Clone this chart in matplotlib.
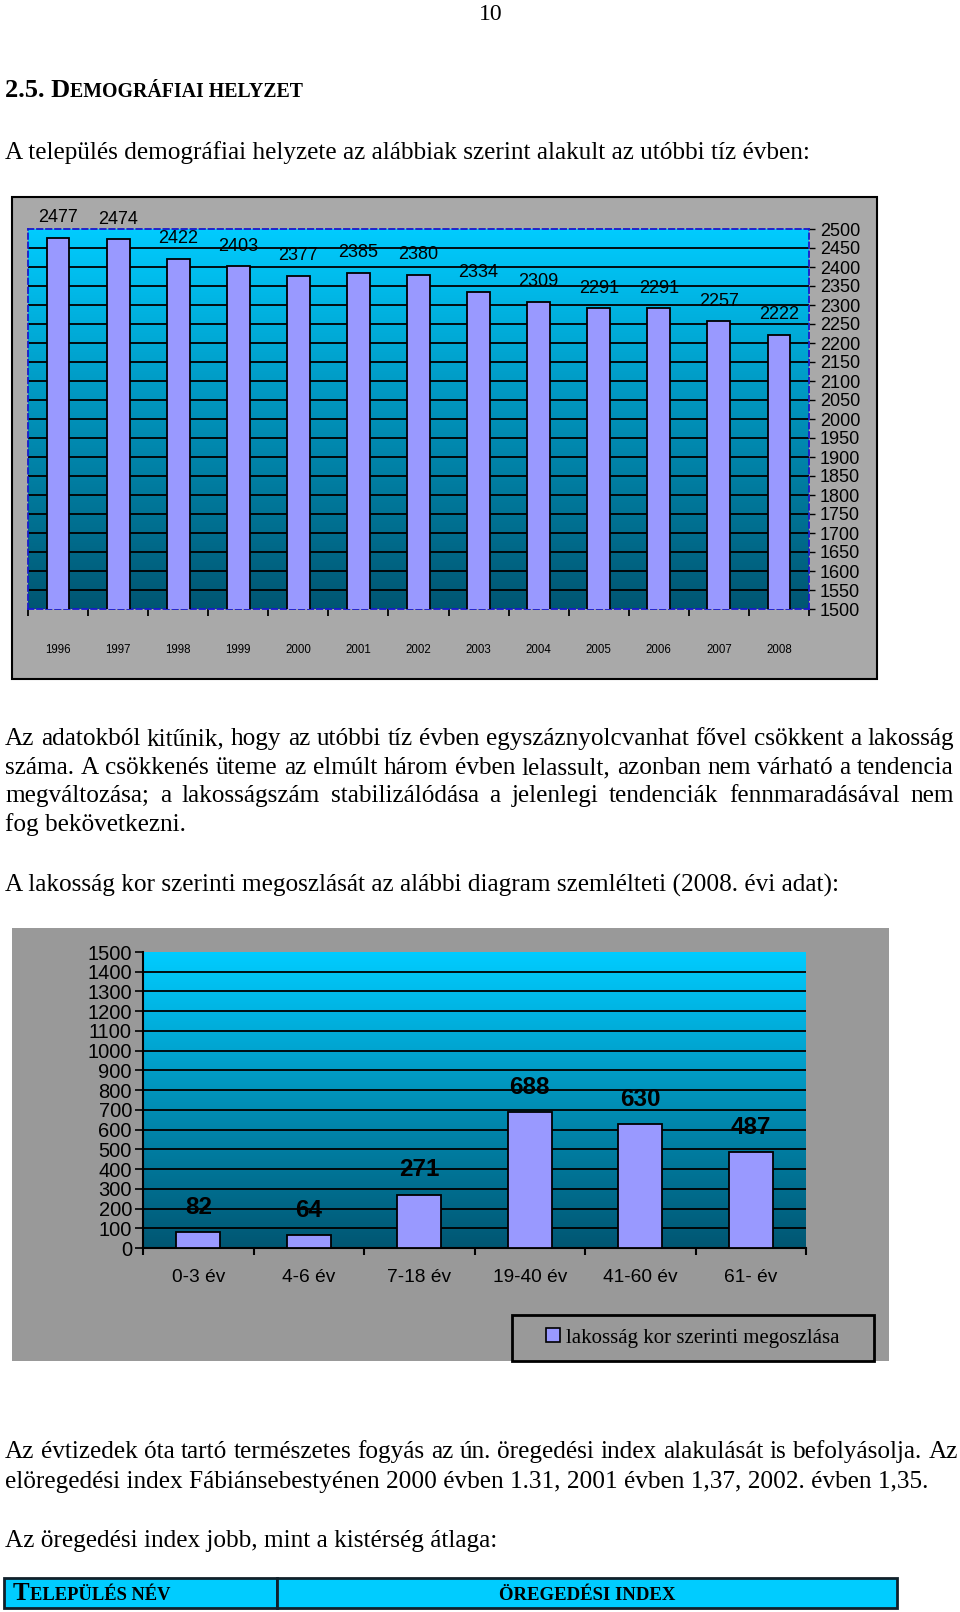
import numpy as np
import matplotlib
matplotlib.use('Agg')
import matplotlib.pyplot as plt
from matplotlib.colors import LinearSegmentedColormap
from matplotlib.patches import Rectangle, Patch

# data
years = ['1996', '1997', '1998', '1999', '2000', '2001', '2002',
         '2003', '2004', '2005', '2006', '2007', '2008']
population = [2477, 2474, 2422, 2403, 2377, 2385, 2380, 2334, 2309, 2291, 2291, 2257, 2222]
age_groups = ['0-3 év', '4-6 év', '7-18 év', '19-40 év', '41-60 év', '61- év']
age_counts = [82, 64, 271, 688, 630, 487]
legend_label = 'lakosság kor szerinti megoszlása'

W, H = 960, 1612
SANS = 'Liberation Sans'
SERIF = 'Liberation Serif'


def fx(x):
    return x / W


def fy(y):
    return 1 - y / H


def box(l, t, r, b):
    return [fx(l), fy(b), (r - l) / W, (b - t) / H]


def rect(l, t, r, b, **kw):
    # page rectangle in pixel coords, kept behind the axes
    fig.add_artist(Rectangle((fx(l), fy(b)), (r - l) / W, (b - t) / H,
                             transform=fig.transFigure, zorder=-1, **kw))


fig = plt.figure(figsize=(W / 100, H / 100), dpi=100)
renderer = fig.canvas.get_renderer()

cmap = LinearSegmentedColormap.from_list('bg', ['#005672', '#0190b8', '#00ccff'])
grad = np.linspace(0, 1, 256).reshape(-1, 1)


def page_text(x, y, s, size=18.2, weight='normal', ha='left'):
    return fig.text(fx(x), fy(y), s, fontsize=size, family=SERIF, weight=weight,
                    ha=ha, va='baseline')


def justify(words_line, y, x0=5, x1=956, size=18.2):
    words = words_line.split()
    items = [page_text(0, y, w, size) for w in words]
    widths = [t.get_window_extent(renderer).width for t in items]
    gap = (x1 - x0 - sum(widths)) / (len(words) - 1)
    x = x0
    for t, w in zip(items, widths):
        t.set_x(fx(x))
        x += w + gap


def small_caps(x, y, big, rest, big_size, small_size):
    t = page_text(x, y, big, big_size, 'bold')
    w = t.get_window_extent(renderer).width
    page_text(x + w, y, rest, small_size, 'bold')


# page texts
page_text(491, 20, '10', 17, ha='center')
small_caps(5, 97, '2.5. D', 'EMOGRÁFIAI HELYZET', 19, 14.3)
page_text(5, 159, 'A település demográfiai helyzete az alábbiak szerint alakult az utóbbi tíz évben:')

justify('Az adatokból kitűnik, hogy az utóbbi tíz évben egyszáznyolcvanhat fővel csökkent a lakosság', 745, x1=954)
justify('száma. A csökkenés üteme az elmúlt három évben lelassult, azonban nem várható a tendencia', 774, x1=954)
justify('megváltozása; a lakosságszám stabilizálódása a jelenlegi tendenciák fennmaradásával nem', 802, x1=954)
page_text(5, 831, 'fog bekövetkezni.')
page_text(5, 892, 'A lakosság kor szerinti megoszlását az alábbi diagram szemlélteti (2008. évi adat):')
justify('Az évtizedek óta tartó természetes fogyás az ún. öregedési index alakulását is befolyásolja. Az', 1458, x1=958)
page_text(5, 1488, 'elöregedési index Fábiánsebestyénen 2000 évben 1.31, 2001 évben 1,37, 2002. évben 1,35.')
page_text(5, 1547, 'Az öregedési index jobb, mint a kistérség átlaga:')

# table header
rect(4, 1578, 277, 1608, facecolor='#00ccff', edgecolor='#10202a', lw=2)
rect(277, 1578, 897, 1608, facecolor='#00ccff', edgecolor='#10202a', lw=2)
small_caps(13, 1600, 'T', 'ELEPÜLÉS NÉV', 18, 13.3)
page_text(587, 1600, 'ÖREGEDÉSI INDEX', 13.5, 'bold', ha='center')

# ---- chart 1: population by year ----
rect(12, 197, 877, 679, facecolor='#a9a9a9', edgecolor='black', lw=1.5)
ax1 = fig.add_axes(box(28, 229, 809, 609))
ax1.patch.set_visible(False)
x1 = np.arange(len(years))
ax1.imshow(grad, extent=[-0.5, len(years) - 0.5, 1500, 2500], origin='lower',
           aspect='auto', cmap=cmap, zorder=0)
ax1.bar(x1, population, width=0.38, color='#9999ff', edgecolor='black', lw=1.3, zorder=3)
ax1.set_xlim(-0.5, len(years) - 0.5)
ax1.set_ylim(1500, 2500)
yt1 = np.arange(1500, 2501, 50)
for v in yt1[1:-1]:
    ax1.axhline(v, color='black', lw=1.3, zorder=2)
ax1.set_yticks(yt1)
ax1.yaxis.tick_right()
ax1.tick_params(axis='y', length=4, width=1, pad=4, labelsize=13, labelfontfamily=SANS)
ax1.set_xticks(x1, years)
ax1.set_xticks(np.arange(-0.5, len(years), 1), minor=True)
ax1.tick_params(axis='x', which='major', length=0, pad=25, labelsize=8.3, labelfontfamily=SANS)
ax1.tick_params(axis='x', which='minor', length=5, width=1.3)
for s in ax1.spines.values():
    s.set_color('#1a1acc')
    s.set_linestyle((0, (3, 2)))
    s.set_linewidth(1.3)
for xi, v in zip(x1, population):
    ax1.annotate(str(v), (xi, v), xytext=(0, 11), textcoords='offset points',
                 ha='center', va='baseline', fontsize=13, family=SANS,
                 annotation_clip=False, zorder=4)

# ---- chart 2: age distribution ----
rect(12, 928, 889, 1361, facecolor='#999999', edgecolor='none')
ax2 = fig.add_axes(box(143, 952, 806, 1248))
ax2.patch.set_visible(False)
x2 = np.arange(len(age_groups))
ax2.imshow(grad, extent=[-0.5, len(age_groups) - 0.5, 0, 1500], origin='lower',
           aspect='auto', cmap=cmap, zorder=0)
ax2.bar(x2, age_counts, width=0.4, color='#9999ff', edgecolor='black', lw=1.3, zorder=3)
ax2.set_xlim(-0.5, len(age_groups) - 0.5)
ax2.set_ylim(0, 1500)
yt2 = np.arange(0, 1501, 100)
for v in yt2[1:-1]:
    ax2.axhline(v, color='black', lw=1.3, zorder=2)
ax2.set_yticks(yt2)
ax2.tick_params(axis='y', length=6, width=1.2, pad=2, labelsize=14.5, labelfontfamily=SANS)
ax2.set_xticks(x2, age_groups)
ax2.set_xticks(np.arange(-0.5, len(age_groups), 1), minor=True)
ax2.tick_params(axis='x', which='major', length=0, pad=15, labelsize=13.8, labelfontfamily=SANS)
ax2.tick_params(axis='x', which='minor', length=5, width=1.5)
ax2.spines['top'].set_visible(False)
ax2.spines['right'].set_visible(False)
ax2.spines['left'].set_linewidth(1.5)
ax2.spines['bottom'].set_linewidth(1.5)
for xi, v in zip(x2, age_counts):
    ax2.annotate(str(v), (xi, v), xytext=(0, 13), textcoords='offset points',
                 ha='center', va='baseline', fontsize=17.5, weight='bold', family=SANS,
                 annotation_clip=False, zorder=4)

rect(512, 1315, 874, 1361, facecolor='#999999', edgecolor='black', lw=2)
ax2.legend(handles=[Patch(facecolor='#9999ff', edgecolor='black', lw=1.2)], labels=[legend_label],
           loc='center', bbox_to_anchor=(fx(693), fy(1338)), bbox_transform=fig.transFigure,
           frameon=False, prop={'family': SERIF, 'size': 15},
           handlelength=0.65, handleheight=0.65, handletextpad=0.3)

fig.savefig('out.png', dpi=100)
